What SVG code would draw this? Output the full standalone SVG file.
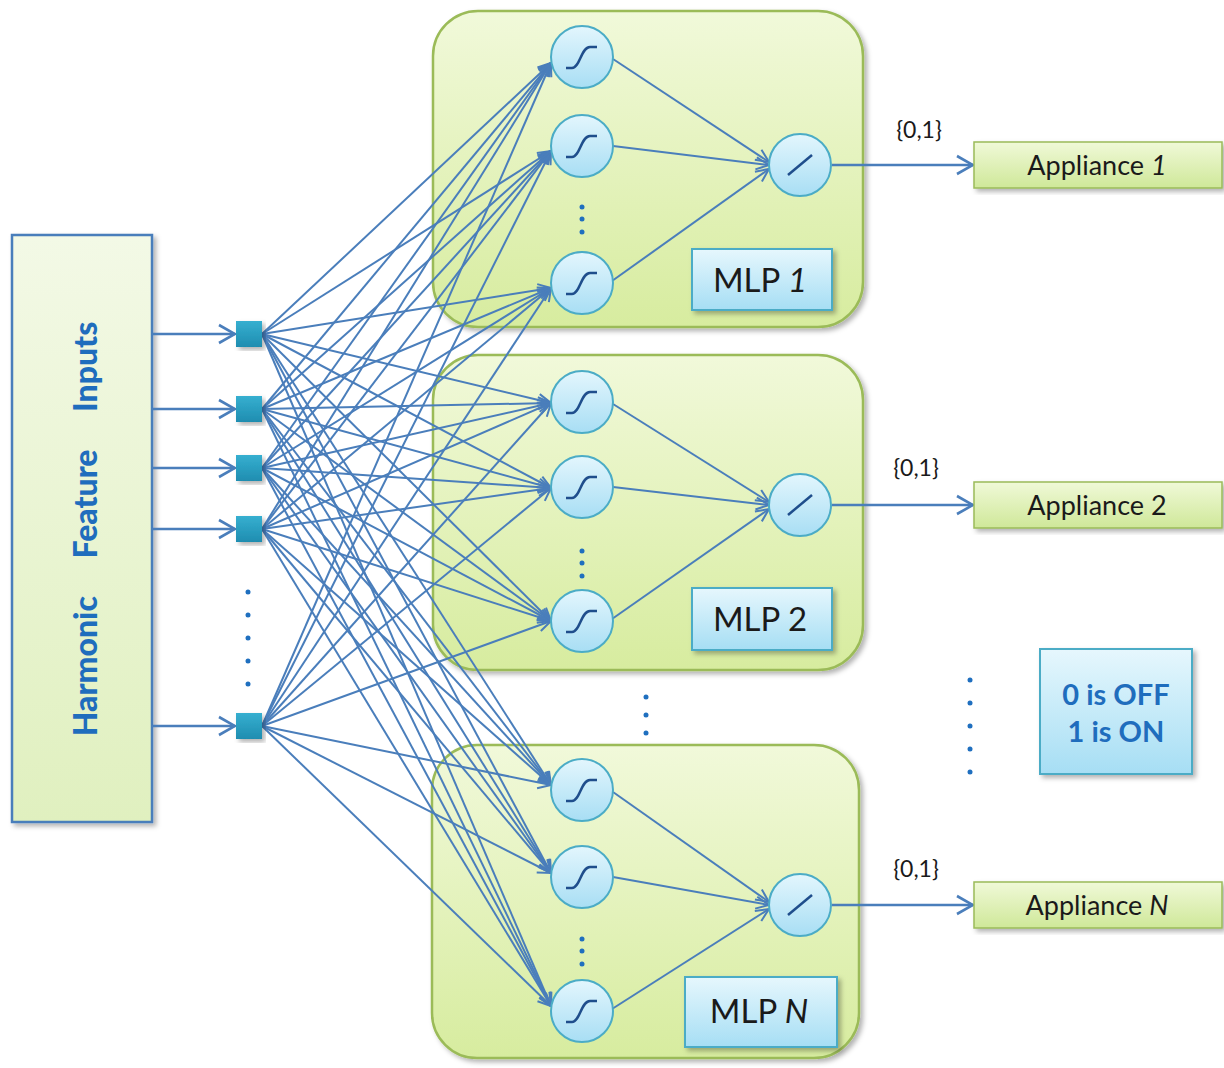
<svg xmlns="http://www.w3.org/2000/svg" xmlns:xlink="http://www.w3.org/1999/xlink" width="1224" height="1068" viewBox="0 0 1224 1068">
<style>
  .txt { font-family: Lato, "Open Sans", "Liberation Sans", sans-serif; }
  .mlp { fill: url(#gGreen); stroke: #9bbb59; stroke-width: 2.5; filter: url(#sh); }
  .app { fill: url(#gApp); stroke: #9bbb59; stroke-width: 1.5; filter: url(#sh); }
  .lbl { fill: url(#gBlue); stroke: #4bacc6; stroke-width: 2; filter: url(#sh); }
  .conn line { stroke: #4a7ebb; stroke-width: 2; fill: none; }
  .h line { marker-end: url(#ah); }
  .io line { stroke-width: 2.5; marker-end: url(#ab); }
  .dot { fill: #1f6fbf; }
  .dark { fill: #1a1a1a; }
</style>
<defs>
  <linearGradient id="gGreen" x1="0" y1="0" x2="0" y2="1">
    <stop offset="0" stop-color="#f1f9da"/>
    <stop offset="1" stop-color="#d7ec9f"/>
  </linearGradient>
  <linearGradient id="gApp" x1="0" y1="0" x2="0" y2="1">
    <stop offset="0" stop-color="#f0f9d8"/>
    <stop offset="1" stop-color="#cfe899"/>
  </linearGradient>
  <linearGradient id="gLeft" x1="0" y1="0" x2="0" y2="1">
    <stop offset="0" stop-color="#f3f9e6"/>
    <stop offset="1" stop-color="#e0f0bf"/>
  </linearGradient>
  <linearGradient id="gBlue" x1="0" y1="0" x2="0" y2="1">
    <stop offset="0" stop-color="#e6f7fd"/>
    <stop offset="1" stop-color="#a6def4"/>
  </linearGradient>
  <linearGradient id="gNeu" x1="0" y1="0" x2="0" y2="1">
    <stop offset="0" stop-color="#e3f6fd"/>
    <stop offset="1" stop-color="#a8def4"/>
  </linearGradient>
  <linearGradient id="gSq" x1="0" y1="0" x2="0" y2="1">
    <stop offset="0" stop-color="#36afd0"/>
    <stop offset="1" stop-color="#1f8db0"/>
  </linearGradient>
  <filter id="sh" x="-10%" y="-10%" width="125%" height="125%">
    <feDropShadow dx="3" dy="3" stdDeviation="2.5" flood-color="#000" flood-opacity="0.3"/>
  </filter>
  <marker id="ah" markerUnits="userSpaceOnUse" markerWidth="16" markerHeight="16" viewBox="0 0 16 16" refX="15" refY="8" orient="auto">
    <path d="M2,2 L15,8 L2,14" fill="none" stroke="#4a7ebb" stroke-width="2"/>
  </marker>
  <marker id="ab" markerUnits="userSpaceOnUse" markerWidth="24" markerHeight="24" viewBox="0 0 24 24" refX="22" refY="12" orient="auto">
    <path d="M6,3 L22,12 L6,21" fill="none" stroke="#4a7ebb" stroke-width="2.6"/>
  </marker>
  <g id="sig">
    <circle r="31" fill="url(#gNeu)" stroke="#4bacc6" stroke-width="2"/>
    <path d="M-16,11 L-10,11 C-2,11 -1,-10 8,-10 L15,-10" fill="none" stroke="#1f4e8c" stroke-width="2.5"/>
  </g>
  <g id="lin">
    <circle r="31" fill="url(#gNeu)" stroke="#4bacc6" stroke-width="2"/>
    <path d="M-12,10 L12,-10" fill="none" stroke="#1f4e8c" stroke-width="2.5"/>
  </g>
  <rect id="sq" x="-13" y="-13" width="26" height="26" fill="url(#gSq)"/>
</defs>

<rect width="1224" height="1068" fill="#ffffff"/>

<g id="input-box">
  <rect x="12" y="235" width="140" height="587" fill="url(#gLeft)" stroke="#4a7ebb" stroke-width="2.5" filter="url(#sh)"/>
  <text class="txt" transform="translate(97,529) rotate(-90)" text-anchor="middle" font-size="32" font-weight="900" fill="#1f6dbd" word-spacing="30">Harmonic Feature Inputs</text>
</g>

<g id="mlp1"><rect class="mlp" x="433" y="11" width="430" height="316" rx="45"/></g>
<g id="mlp2"><rect class="mlp" x="433" y="355" width="430" height="315" rx="45"/></g>
<g id="mlpN"><rect class="mlp" x="432" y="745" width="427" height="313" rx="45"/></g>

<g id="connectors" class="conn">
  <g class="io">
    <line x1="152" y1="334" x2="235" y2="334"/>
    <line x1="152" y1="409" x2="235" y2="409"/>
    <line x1="152" y1="468" x2="235" y2="468"/>
    <line x1="152" y1="529" x2="235" y2="529"/>
    <line x1="152" y1="726" x2="235" y2="726"/>
    <line x1="832" y1="165" x2="973" y2="165"/>
    <line x1="832" y1="505" x2="973" y2="505"/>
    <line x1="832" y1="905" x2="973" y2="905"/>
  </g>
  <g class="h">
    <line x1="262" y1="334" x2="551" y2="63"/>
    <line x1="262" y1="334" x2="551" y2="151"/>
    <line x1="262" y1="334" x2="551" y2="288"/>
    <line x1="262" y1="334" x2="551" y2="403"/>
    <line x1="262" y1="334" x2="551" y2="488"/>
    <line x1="262" y1="334" x2="551" y2="621"/>
    <line x1="262" y1="334" x2="551" y2="785"/>
    <line x1="262" y1="334" x2="551" y2="873"/>
    <line x1="262" y1="334" x2="551" y2="1006"/>

    <line x1="262" y1="409" x2="551" y2="63"/>
    <line x1="262" y1="409" x2="551" y2="151"/>
    <line x1="262" y1="409" x2="551" y2="288"/>
    <line x1="262" y1="409" x2="551" y2="403"/>
    <line x1="262" y1="409" x2="551" y2="488"/>
    <line x1="262" y1="409" x2="551" y2="621"/>
    <line x1="262" y1="409" x2="551" y2="785"/>
    <line x1="262" y1="409" x2="551" y2="873"/>
    <line x1="262" y1="409" x2="551" y2="1006"/>

    <line x1="262" y1="468" x2="551" y2="63"/>
    <line x1="262" y1="468" x2="551" y2="151"/>
    <line x1="262" y1="468" x2="551" y2="288"/>
    <line x1="262" y1="468" x2="551" y2="403"/>
    <line x1="262" y1="468" x2="551" y2="488"/>
    <line x1="262" y1="468" x2="551" y2="621"/>
    <line x1="262" y1="468" x2="551" y2="785"/>
    <line x1="262" y1="468" x2="551" y2="873"/>
    <line x1="262" y1="468" x2="551" y2="1006"/>

    <line x1="262" y1="529" x2="551" y2="63"/>
    <line x1="262" y1="529" x2="551" y2="151"/>
    <line x1="262" y1="529" x2="551" y2="288"/>
    <line x1="262" y1="529" x2="551" y2="403"/>
    <line x1="262" y1="529" x2="551" y2="488"/>
    <line x1="262" y1="529" x2="551" y2="621"/>
    <line x1="262" y1="529" x2="551" y2="785"/>
    <line x1="262" y1="529" x2="551" y2="873"/>
    <line x1="262" y1="529" x2="551" y2="1006"/>

    <line x1="262" y1="726" x2="551" y2="63"/>
    <line x1="262" y1="726" x2="551" y2="151"/>
    <line x1="262" y1="726" x2="551" y2="288"/>
    <line x1="262" y1="726" x2="551" y2="403"/>
    <line x1="262" y1="726" x2="551" y2="488"/>
    <line x1="262" y1="726" x2="551" y2="621"/>
    <line x1="262" y1="726" x2="551" y2="785"/>
    <line x1="262" y1="726" x2="551" y2="873"/>
    <line x1="262" y1="726" x2="551" y2="1006"/>

    <line x1="613" y1="59" x2="769" y2="162"/>
    <line x1="613" y1="146" x2="769" y2="165"/>
    <line x1="612" y1="281" x2="769" y2="169"/>

    <line x1="613" y1="404" x2="769" y2="502"/>
    <line x1="613" y1="487" x2="769" y2="505"/>
    <line x1="612" y1="619" x2="769" y2="509"/>

    <line x1="613" y1="792" x2="769" y2="902"/>
    <line x1="613" y1="877" x2="769" y2="905"/>
    <line x1="612" y1="1009" x2="769" y2="909"/>
  </g>
</g>

<g id="in1"><use xlink:href="#sq" x="249" y="334" filter="url(#sh)"/></g>
<g id="in2"><use xlink:href="#sq" x="249" y="409" filter="url(#sh)"/></g>
<g id="in3"><use xlink:href="#sq" x="249" y="468" filter="url(#sh)"/></g>
<g id="in4"><use xlink:href="#sq" x="249" y="529" filter="url(#sh)"/></g>
<g id="in5"><use xlink:href="#sq" x="249" y="726" filter="url(#sh)"/></g>
<g id="in-dots">
  <circle class="dot" cx="248" cy="592" r="2.5"/>
  <circle class="dot" cx="248" cy="615" r="2.5"/>
  <circle class="dot" cx="248" cy="638" r="2.5"/>
  <circle class="dot" cx="248" cy="661" r="2.5"/>
  <circle class="dot" cx="248" cy="684" r="2.5"/>
</g>

<g id="mlp1-nodes">
  <g id="h1-1"><use xlink:href="#sig" x="582" y="57"/></g>
  <g id="h1-2"><use xlink:href="#sig" x="582" y="146"/></g>
  <g id="h1-3"><use xlink:href="#sig" x="582" y="283"/></g>
  <g id="o1"><use xlink:href="#lin" x="800" y="165"/></g>
  <circle class="dot" cx="582" cy="207" r="2.5"/>
  <circle class="dot" cx="582" cy="219" r="2.5"/>
  <circle class="dot" cx="582" cy="232" r="2.5"/>
  <g id="mlp1-label">
    <rect class="lbl" x="692" y="249" width="140" height="61"/>
    <text class="txt dark" x="760" y="292" text-anchor="middle" font-size="33">MLP <tspan font-style="italic">1</tspan></text>
  </g>
</g>

<g id="mlp2-nodes">
  <g id="h2-1"><use xlink:href="#sig" x="582" y="402"/></g>
  <g id="h2-2"><use xlink:href="#sig" x="582" y="487"/></g>
  <g id="h2-3"><use xlink:href="#sig" x="582" y="621"/></g>
  <g id="o2"><use xlink:href="#lin" x="800" y="505"/></g>
  <circle class="dot" cx="582" cy="551" r="2.5"/>
  <circle class="dot" cx="582" cy="563" r="2.5"/>
  <circle class="dot" cx="582" cy="576" r="2.5"/>
  <g id="mlp2-label">
    <rect class="lbl" x="692" y="588" width="140" height="62"/>
    <text class="txt dark" x="760" y="631" text-anchor="middle" font-size="33">MLP 2</text>
  </g>
</g>

<g id="mlpN-nodes">
  <g id="hN-1"><use xlink:href="#sig" x="582" y="790"/></g>
  <g id="hN-2"><use xlink:href="#sig" x="582" y="877"/></g>
  <g id="hN-3"><use xlink:href="#sig" x="582" y="1011"/></g>
  <g id="oN"><use xlink:href="#lin" x="800" y="905"/></g>
  <circle class="dot" cx="582" cy="939" r="2.5"/>
  <circle class="dot" cx="582" cy="951" r="2.5"/>
  <circle class="dot" cx="582" cy="964" r="2.5"/>
  <g id="mlpN-label">
    <rect class="lbl" x="685" y="977" width="152" height="70"/>
    <text class="txt dark" x="759" y="1023" text-anchor="middle" font-size="33">MLP <tspan font-style="italic">N</tspan></text>
  </g>
</g>

<g id="mid-dots">
  <circle class="dot" cx="646" cy="697" r="2.5"/>
  <circle class="dot" cx="646" cy="715" r="2.5"/>
  <circle class="dot" cx="646" cy="733" r="2.5"/>
</g>
<g id="right-dots">
  <circle class="dot" cx="970" cy="680" r="2.5"/>
  <circle class="dot" cx="970" cy="703" r="2.5"/>
  <circle class="dot" cx="970" cy="726" r="2.5"/>
  <circle class="dot" cx="970" cy="749" r="2.5"/>
  <circle class="dot" cx="970" cy="772" r="2.5"/>
</g>

<g id="lab1"><text class="txt dark" x="919" y="138" text-anchor="middle" font-size="23">{0,1}</text></g>
<g id="lab2"><text class="txt dark" x="916" y="476" text-anchor="middle" font-size="23">{0,1}</text></g>
<g id="labN"><text class="txt dark" x="916" y="877" text-anchor="middle" font-size="23">{0,1}</text></g>

<g id="appliance1">
  <rect class="app" x="974" y="142" width="248" height="46"/>
  <text class="txt dark" x="1097" y="175" text-anchor="middle" font-size="27">Appliance  <tspan font-style="italic">1</tspan></text>
</g>
<g id="appliance2">
  <rect class="app" x="974" y="482" width="248" height="46"/>
  <text class="txt dark" x="1097" y="515" text-anchor="middle" font-size="27">Appliance  2</text>
</g>
<g id="applianceN">
  <rect class="app" x="974" y="882" width="248" height="46"/>
  <text class="txt dark" x="1097" y="915" text-anchor="middle" font-size="27">Appliance  <tspan font-style="italic">N</tspan></text>
</g>

<g id="legend">
  <rect class="lbl" x="1040" y="649" width="152" height="125"/>
  <text class="txt" x="1116" y="705" text-anchor="middle" font-size="29" font-weight="bold" fill="#1f6dbd">0 is OFF</text>
  <text class="txt" x="1116" y="742" text-anchor="middle" font-size="29" font-weight="bold" fill="#1f6dbd">1 is ON</text>
</g>
</svg>
